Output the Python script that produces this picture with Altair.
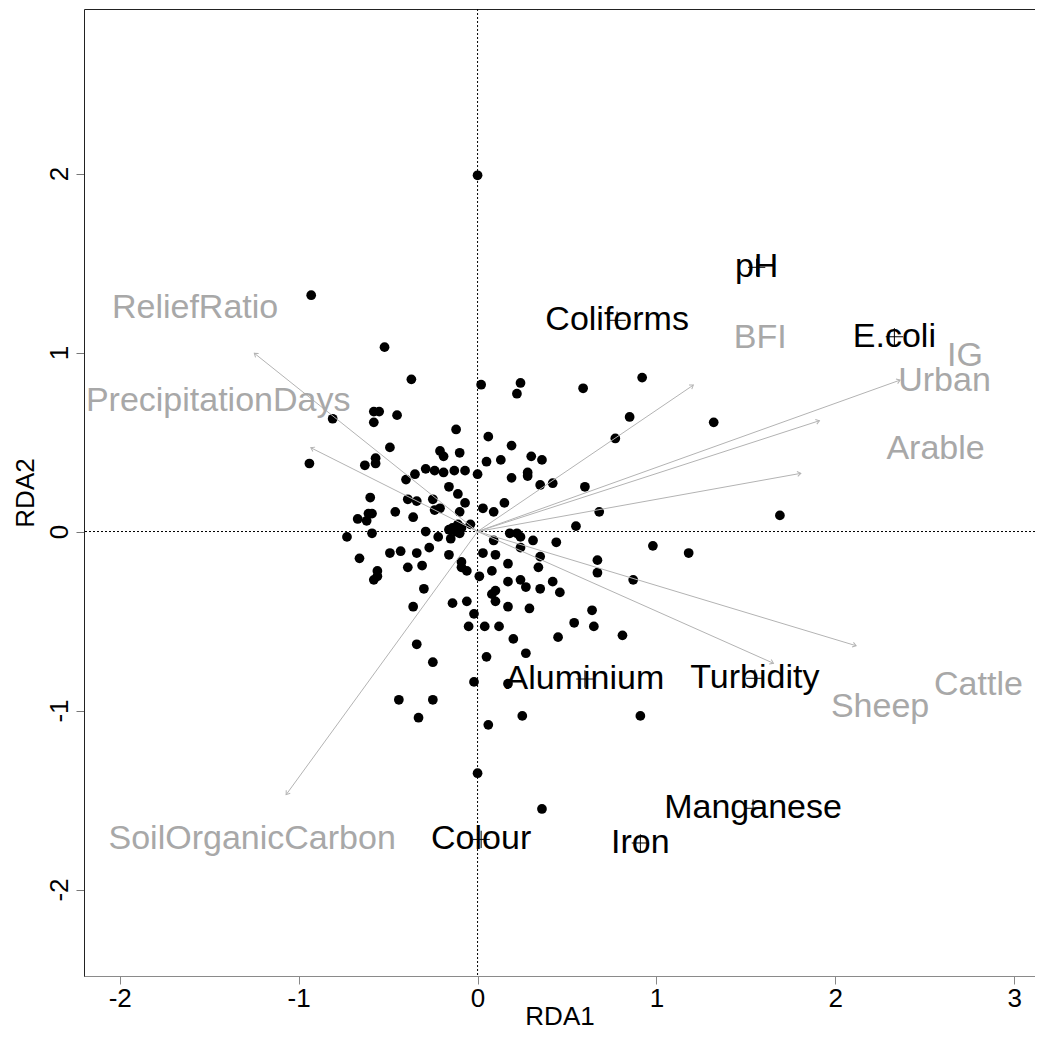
import altair as alt
import pandas as pd

# ---- site scores (black points) ----
site_x = [0.00, -0.93, -0.52, -0.37, 0.02, 0.24, 0.22, 0.59, 0.92, 0.85, 0.77, 1.32, 1.69,
          -0.81, -0.58, -0.55, -0.58, -0.45, -0.12, 0.06, -0.49, -0.21, -0.19, -0.10, -0.94,
          -0.63, -0.57, -0.57, -0.35, -0.29, -0.24, -0.19, -0.13, -0.07, 0.00, -0.40, -0.16,
          -0.60, -0.39, -0.34, -0.25, -0.24, -0.21, -0.11, -0.07, -0.10, 0.03, -0.46, -0.61,
          -0.59, -0.62, -0.67, -0.36, -0.04, -0.14, -0.11, -0.09, -0.12, -0.10, -0.16, -0.29,
          -0.59, -0.73, 0.13, 0.19, 0.30, 0.36, 0.05, 0.19, 0.28, 0.28, 0.35, 0.42, 0.60, 0.68,
          0.15, 0.09, 0.55, 0.18, 0.22, 0.24, 0.31, 0.44, 0.98, 1.18, 0.09, -0.22, -0.15, -0.66,
          -0.49, -0.43, -0.34, -0.27, -0.16, 0.03, 0.10, 0.24, 0.35, -0.39, -0.31, -0.09, -0.09,
          -0.06, 0.01, 0.08, 0.17, 0.34, 0.67, 0.67, 0.87, -0.56, -0.56, -0.58, 0.24, 0.27, 0.17,
          0.42, 0.35, 0.46, 0.10, 0.08, 0.10, -0.30, -0.36, -0.14, -0.06, 0.17, 0.29, -0.02, 0.64,
          0.54, 0.65, -0.05, 0.04, 0.12, 0.45, 0.81, 0.20, -0.34, 0.27, 0.05, -0.25, -0.02, 0.17,
          -0.44, -0.25, 0.25, 0.91, -0.33, 0.06, 0.00, 0.36]
site_y = [1.99, 1.32, 1.03, 0.85, 0.82, 0.83, 0.77, 0.80, 0.86, 0.64, 0.52, 0.61, 0.09,
          0.63, 0.67, 0.67, 0.61, 0.65, 0.57, 0.53, 0.47, 0.45, 0.42, 0.44, 0.38,
          0.37, 0.41, 0.38, 0.32, 0.35, 0.34, 0.33, 0.34, 0.34, 0.32, 0.29, 0.25,
          0.19, 0.18, 0.17, 0.18, 0.12, 0.13, 0.21, 0.16, 0.11, 0.13, 0.11, 0.10,
          0.10, 0.06, 0.07, 0.08, 0.04, 0.02, 0.04, 0.02, 0.00, -0.01, 0.01, 0.00,
          -0.01, -0.03, 0.40, 0.48, 0.42, 0.40, 0.39, 0.30, 0.33, 0.31, 0.26, 0.27, 0.25, 0.11,
          0.16, 0.11, 0.03, -0.01, -0.01, -0.03, -0.05, -0.06, -0.08, -0.12, -0.05, -0.03, -0.04, -0.15,
          -0.12, -0.11, -0.12, -0.09, -0.13, -0.12, -0.13, -0.09, -0.14, -0.20, -0.19, -0.17, -0.20,
          -0.22, -0.25, -0.22, -0.18, -0.20, -0.16, -0.23, -0.27, -0.22, -0.25, -0.27, -0.27, -0.31, -0.28,
          -0.28, -0.32, -0.34, -0.33, -0.35, -0.39, -0.32, -0.42, -0.40, -0.39, -0.42, -0.43, -0.46, -0.44,
          -0.51, -0.53, -0.53, -0.53, -0.53, -0.59, -0.58, -0.60, -0.63, -0.68, -0.70, -0.73, -0.84, -0.85,
          -0.94, -0.94, -1.03, -1.03, -1.04, -1.08, -1.35, -1.55]

# ---- environmental vectors (grey arrows + labels) ----
env_names = ["ReliefRatio", "PrecipitationDays", "SoilOrganicCarbon", "BFI", "IG",
             "Urban", "Arable", "Cattle", "Sheep"]
env_x = [-1.248, -0.932, -1.07, 1.206, 2.362, 1.911, 1.807, 2.116, 1.654]
env_y = [0.996, 0.468, -1.47, 0.818, 0.846, 0.619, 0.325, -0.638, -0.736]
env_label_x = [-1.579, -1.45, -1.26, 1.58, 2.725, 2.61, 2.56, 2.80, 2.25]
env_label_y = [1.251, 0.73, -1.72, 1.08, 0.978, 0.84, 0.46, -0.855, -0.983]

# ---- response variables (black labels with + markers) ----
resp_names = ["pH", "Coliforms", "E.coli", "Aluminium", "Turbidity", "Manganese", "Iron", "Colour"]
resp_x = [1.56, 0.78, 2.33, 0.60, 1.55, 1.54, 0.91, 0.02]
resp_y = [1.476, 1.18, 1.088, -0.824, -0.82, -1.546, -1.74, -1.72]

x_ticks = [-2, -1, 0, 1, 2, 3]
y_ticks = [-2, -1, 0, 1, 2]

sites = pd.DataFrame({"RDA1": site_x, "RDA2": site_y})
env = pd.DataFrame({"name": env_names, "x": env_x, "y": env_y,
                    "lx": env_label_x, "ly": env_label_y})
env["x0"] = 0.0
env["y0"] = 0.0
resp = pd.DataFrame({"name": resp_names, "x": resp_x, "y": resp_y})
zero = pd.DataFrame({"v": [0.0]})

FONT = "Liberation Sans"
GREY_LINE = "#b3b3b3"
GREY_TEXT = "#a8a8a8"

W, H = 951, 967
xs = alt.Scale(domain=[-2.2, 3.116], nice=False, zero=False)
ys = alt.Scale(domain=[-2.483, 2.919], nice=False, zero=False)

x_axis = alt.Axis(values=x_ticks, title="RDA1", tickColor="#888888", domainColor="#8a8a8a",
                  labelPadding=1, titlePadding=-8, zindex=1, labelExpr="'' + datum.value")
y_axis = alt.Axis(values=y_ticks, title="RDA2", tickColor="#777777", domainColor="#222222",
                  labelAngle=270, labelAlign="center", labelBaseline="bottom",
                  labelPadding=4, titlePadding=8, zindex=1, labelExpr="'' + datum.value")


def X(field):
    return alt.X(field, type="quantitative", scale=xs, axis=x_axis)


def Y(field):
    return alt.Y(field, type="quantitative", scale=ys, axis=y_axis)


points = alt.Chart(sites).mark_circle(size=95, color="black", opacity=1).encode(
    x=X("RDA1"), y=Y("RDA2"))

vline = alt.Chart(zero).mark_rule(color="black", strokeDash=[2, 2], strokeWidth=1).encode(
    x=X("v"))
hline = alt.Chart(zero).mark_rule(color="black", strokeDash=[2, 2], strokeWidth=1).encode(
    y=Y("v"))

arrows = alt.Chart(env).mark_rule(color=GREY_LINE, strokeWidth=1).encode(
    x=X("x0"), y=Y("y0"), x2="x:Q", y2="y:Q")

heads = alt.Chart(env).transform_calculate(
    ang="(360 + atan2(-datum.y, datum.x) * 180 / PI) % 360"
).mark_point(shape="M-1,-0.7L0,0L-1,0.7", filled=False, color=GREY_LINE,
             strokeWidth=1, size=50, opacity=1).encode(
    x=X("x"), y=Y("y"), angle=alt.Angle("ang:Q", scale=None))

env_text = alt.Chart(env).mark_text(font=FONT, fontSize=34, color=GREY_TEXT,
                                    align="center", baseline="middle").encode(
    x=X("lx"), y=Y("ly"), text="name:N")

resp_text = alt.Chart(resp).mark_text(font=FONT, fontSize=34, color="black",
                                      align="center", baseline="middle").encode(
    x=X("x"), y=Y("y"), text="name:N")

crosses = alt.Chart(resp).mark_point(shape="M-1,0L1,0M0,-1L0,1", filled=False,
                                     color="black", strokeWidth=1, size=300, opacity=1).encode(
    x=X("x"), y=Y("y"))

chart = alt.layer(points, vline, hline, arrows, heads, env_text, resp_text, crosses).properties(
    width=W, height=H,
    autosize=alt.AutoSizeParams(type="none"),
    padding={"left": 76, "top": 1, "right": 0, "bottom": 54},
).configure_view(stroke="#222222", strokeWidth=1, strokeDash=[W, H]).configure_axis(
    grid=False, labelFont=FONT, titleFont=FONT, labelFontSize=26, titleFontSize=26,
    titleFontWeight="normal", labelColor="black", titleColor="black", tickSize=8,
    tickWidth=1, domainWidth=1)

chart.save("out.html", embed_options={"renderer": "svg", "actions": False})
